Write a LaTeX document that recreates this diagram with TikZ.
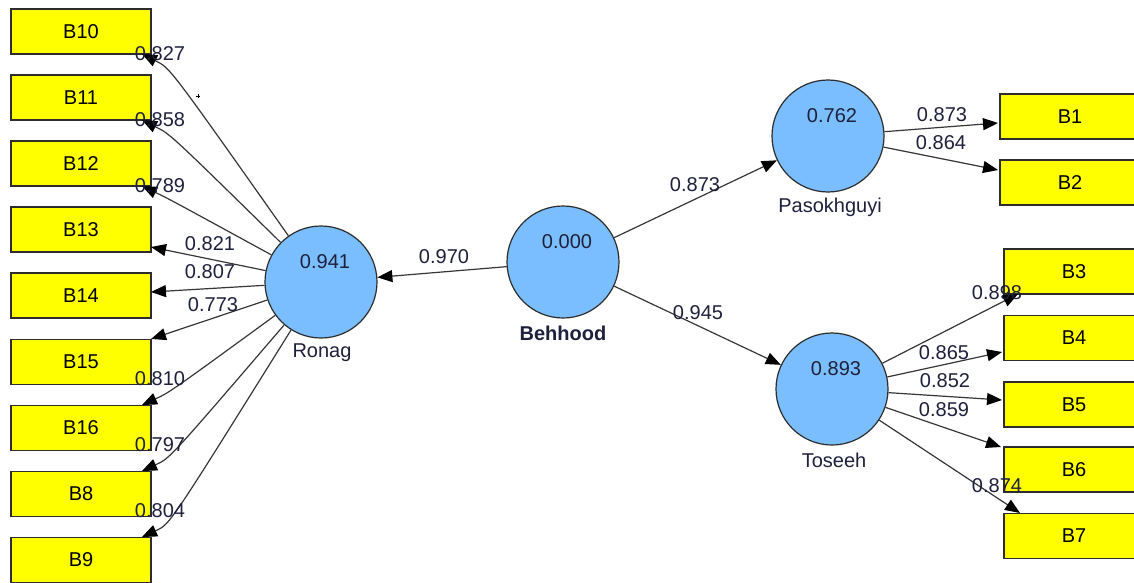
\documentclass[tikz,border=0pt]{standalone}
\usepackage{fontspec}
\setmainfont{Liberation Sans}
\usetikzlibrary{arrows.meta}
\definecolor{boxyellow}{RGB}{255,255,0}
\definecolor{lvblue}{RGB}{122,190,255}
\definecolor{edgecol}{RGB}{45,45,45}
\definecolor{linegray}{RGB}{55,55,55}
\definecolor{valtext}{RGB}{30,32,60}
\begin{document}
\begin{tikzpicture}[x=1pt,y=-1pt,
  ind/.style={draw=edgecol, fill=boxyellow, line width=1.2pt, minimum width=140pt,
    minimum height=45pt, inner sep=0pt, font=\fontsize{20}{24}\selectfont},
  lv/.style={circle, draw=edgecol, fill=lvblue, line width=1.2pt, minimum size=112pt, inner sep=0pt},
  val/.style={font=\fontsize{20}{24}\selectfont, text=valtext, inner sep=0pt},
  nm/.style={font=\fontsize{20}{24}\selectfont, text=valtext, inner sep=0pt},
  arr/.style={draw=linegray, line width=1.2pt, -{Triangle[length=15pt,width=12pt,color=black]}}]
\clip (0,0) rectangle (1134,583);
\fill[white] (0,0) rectangle (1134,583);

% indicator boxes, left
\node[ind] (b10) at (81,31.5) {B10};
\node[ind] (b11) at (81,97.5) {B11};
\node[ind] (b12) at (81,163.5) {B12};
\node[ind] (b13) at (81,229.5) {B13};
\node[ind] (b14) at (81,295.5) {B14};
\node[ind] (b15) at (81,362) {B15};
\node[ind] (b16) at (81,428) {B16};
\node[ind] (b8) at (81,494) {B8};
\node[ind] (b9) at (81,560) {B9};

% indicator boxes, right
\node[ind] (b1) at (1070,116.5) {B1};
\node[ind] (b2) at (1070,182.5) {B2};
\node[ind] (b3) at (1074,271.5) {B3};
\node[ind] (b4) at (1074,338) {B4};
\node[ind] (b5) at (1074,404.5) {B5};
\node[ind] (b6) at (1074,469.5) {B6};
\node[ind] (b7) at (1074,536) {B7};

% latent variables
\node[lv] (ronag) at (321,282) {};
\node[lv] (behhood) at (563,262) {};
\node[lv] (pasokh) at (828,136) {};
\node[lv] (toseeh) at (832,389) {};

\node[val] (vronag) at (325,262) {0.941};
\node[val] (vbehhood) at (567,242) {0.000};
\node[val] (vpasokh) at (832,116) {0.762};
\node[val] (vtoseeh) at (836,369) {0.893};

\node[nm] (nronag) at (322,353) {Ronag};
\node[nm, font=\fontsize{20}{24}\selectfont\bfseries] (nbehhood) at (563,333) {Behhood};
\node[nm] (npasokh) at (830,207) {Pasokhguyi};
\node[nm] (ntoseeh) at (834,460) {Toseeh};

% tip coordinates on the indicator boxes
\coordinate (t10) at (142,54);
\coordinate (t11) at (142,120);
\coordinate (t12) at (142,186);
\coordinate (t13) at (151,247);
\coordinate (t14) at (151,292);
\coordinate (t15) at (151,339);
\coordinate (t16) at (142,405);
\coordinate (t8) at (142,471);
\coordinate (t9) at (142,537);

\coordinate (t1) at (998,123);
\coordinate (t2) at (998,170);
\coordinate (t3) at (1018,294);
\coordinate (t4) at (1002,352);
\coordinate (t5) at (1002,400);
\coordinate (t6) at (1001,447);
\coordinate (t7) at (1020,513);

% Ronag loadings
\draw[arr] (ronag) .. controls (170,68) .. (156.3,61.2) -- (t10);
\draw[arr] (ronag) .. controls (170,134) .. (156.3,127.2) -- (t11);
\draw[arr] (ronag) .. controls (170,199.5) .. (156.4,192.9) -- (t12);
\draw[arr] (ronag) -- (t13);
\draw[arr] (ronag) -- (t14);
\draw[arr] (ronag) -- (t15);
\draw[arr] (ronag) .. controls (170,392) .. (156.5,398.4) -- (t16);
\draw[arr] (ronag) .. controls (170,458) .. (156.5,464.4) -- (t8);
\draw[arr] (ronag) .. controls (170,524) .. (156.5,530.4) -- (t9);

% structural paths
\draw[arr] (behhood) -- (ronag);
\draw[arr] (behhood) -- (pasokh);
\draw[arr] (behhood) -- (toseeh);

% Pasokhguyi and Toseeh loadings
\draw[arr] (pasokh) -- (t1);
\draw[arr] (pasokh) -- (t2);
\draw[arr] (toseeh) -- (t3);
\draw[arr] (toseeh) -- (t4);
\draw[arr] (toseeh) -- (t5);
\draw[arr] (toseeh) -- (t6);
\draw[arr] (toseeh) -- (t7);

% loading labels
\node[val] (l10) at (160,54) {0.827};
\node[val] (l11) at (160,120) {0.858};
\node[val] (l12) at (160,186) {0.789};
\node[val] (l13) at (210,244) {0.821};
\node[val] (l14) at (210,272) {0.807};
\node[val] (l15) at (213,305) {0.773};
\node[val] (l16) at (160,379) {0.810};
\node[val] (l8) at (160,445) {0.797};
\node[val] (l9) at (160,511) {0.804};

\node[val] (lbr) at (444,257) {0.970};
\node[val] (lbp) at (695,185) {0.873};
\node[val] (lbt) at (698,313) {0.945};

\node[val] (l1) at (942,115) {0.873};
\node[val] (l2) at (941,143) {0.864};
\node[val] (l3) at (997,293) {0.898};
\node[val] (l4) at (944,353) {0.865};
\node[val] (l5) at (945,381) {0.852};
\node[val] (l6) at (944,410) {0.859};
\node[val] (l7) at (997,486) {0.874};

% small stray mark
\draw[black, line width=0.8pt] (196,96) -- (200,96) (198,94) -- (198,98);
\end{tikzpicture}
\end{document}
